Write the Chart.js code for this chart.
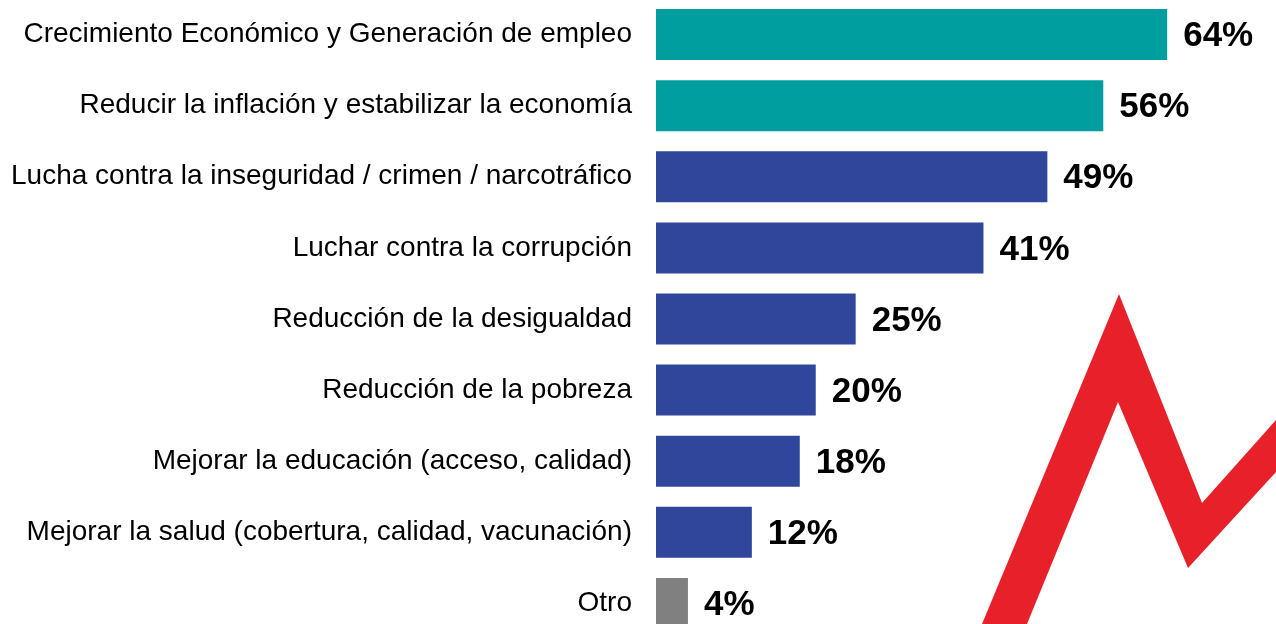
<!DOCTYPE html>
<html>
<head>
<meta charset="utf-8">
<script src="https://cdn.jsdelivr.net/npm/chart.js@4.4.1/dist/chart.umd.min.js"></script>
<style>
  html, body { margin: 0; padding: 0; background: #fff; overflow: hidden; }
  #myChart { position: absolute; left: 0; top: -1px; }
</style>
</head>
<body>
<canvas id="myChart" width="1276" height="640"></canvas>
<script>
const categories = [
  'Crecimiento Económico y Generación de empleo',
  'Reducir la inflación y estabilizar la economía',
  'Lucha contra la inseguridad / crimen / narcotráfico',
  'Luchar contra la corrupción',
  'Reducción de la desigualdad',
  'Reducción de la pobreza',
  'Mejorar la educación (acceso, calidad)',
  'Mejorar la salud (cobertura, calidad, vacunación)',
  'Otro'
];
const values = [64, 56, 49, 41, 25, 20, 18, 12, 4];
const barColors = ['#009E9E', '#009E9E', '#2F469B', '#2F469B', '#2F469B', '#2F469B', '#2F469B', '#2F469B', '#808080'];

// red zigzag decoration in the corner (not data)
const zigzag = {
  id: 'zigzag',
  beforeDatasetsDraw(chart) {
    const ctx = chart.ctx;
    const pts = [[982,625],[1119,295],[1202,504],[1276,421],[1276,473],[1188,569],[1118,403],[1027,625]];
    ctx.save();
    ctx.fillStyle = '#E8202A';
    ctx.beginPath();
    pts.forEach((p, i) => i ? ctx.lineTo(p[0], p[1]) : ctx.moveTo(p[0], p[1]));
    ctx.closePath();
    ctx.fill();
    ctx.restore();
  }
};

// percentage labels at the bar ends
const valueLabels = {
  id: 'valueLabels',
  afterDatasetsDraw(chart) {
    const ctx = chart.ctx;
    const meta = chart.getDatasetMeta(0);
    ctx.save();
    ctx.font = 'bold 35px "Liberation Sans", Arial, sans-serif';
    ctx.fillStyle = '#000';
    ctx.textAlign = 'left';
    ctx.textBaseline = 'middle';
    meta.data.forEach((bar, i) => {
      ctx.fillText(values[i] + '%', bar.x + 16, bar.y + 2);
    });
    ctx.restore();
  }
};

const chartArea = document.getElementById('myChart');
const config = {
  type: 'bar',
  data: {
    labels: categories,
    datasets: [{
      data: values,
      backgroundColor: barColors,
      borderWidth: 0,
      categoryPercentage: 1,
      barPercentage: 0.717
    }]
  },
  options: {
    indexAxis: 'y',
    responsive: false,
    animation: false,
    layout: { padding: { left: 0, right: 5, top: 0, bottom: 0 } },
    plugins: { legend: { display: false }, tooltip: { enabled: false } },
    scales: {
      x: { display: false, min: 0, max: 77 },
      y: {
        grid: { display: false },
        border: { display: false },
        ticks: {
          color: '#000',
          padding: 16,
          font: { family: '"Liberation Sans", Arial, sans-serif', size: 28 }
        },
        afterFit(scale) {
          scale.width = 656;
          scale.paddingTop = 0;
          scale.paddingBottom = 0;
        }
      }
    }
  },
  plugins: [zigzag, valueLabels]
};
const forecast_chart = new Chart(chartArea, config);
</script>
</body>
</html>
